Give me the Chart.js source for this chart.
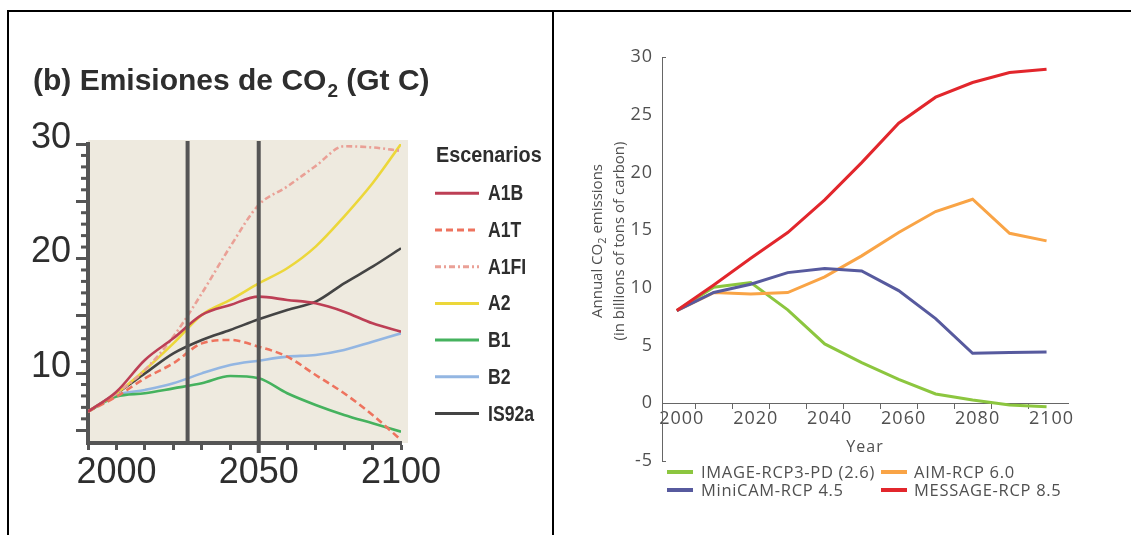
<!DOCTYPE html>
<html><head><meta charset="utf-8">
<script src="https://cdn.jsdelivr.net/npm/chart.js@4.4.1/dist/chart.umd.min.js"></script>
<style>
html,body{margin:0;padding:0;background:#fff;width:1131px;height:535px;overflow:hidden;position:relative;}
.ln{position:absolute;background:#000;}
#wl{position:absolute;left:10px;top:13px;width:542px;height:522px;}
#wr{position:absolute;left:555px;top:13px;width:576px;height:522px;}
</style></head><body>
<div class="ln" style="left:7px;top:10px;width:1124px;height:2px"></div>
<div class="ln" style="left:7px;top:10px;width:2px;height:525px"></div>
<div class="ln" style="left:552px;top:10px;width:2px;height:525px"></div>
<div id="wl"><canvas id="cl"></canvas></div>
<div id="wr"><canvas id="cr"></canvas></div>
<script>
// ---------- Left panel data (SRES scenarios, Gt C) ----------
const sresYears = [1990, 2000, 2010, 2020, 2030, 2040, 2050, 2060, 2070, 2080, 2090, 2100];
const sresA1B   = [6.63, 8.37, 11.14, 13.03, 15.07, 15.94, 16.67, 16.38, 16.09, 15.36, 14.34, 13.61];
const sresA1T   = [6.63, 7.94, 9.54, 10.85, 12.59, 12.89, 12.30, 11.43, 9.83, 8.23, 6.34, 4.15];
const sresA1FI  = [6.63, 8.23, 10.27, 13.18, 16.96, 21.04, 24.68, 26.28, 28.08, 29.8, 29.7, 29.4];
const sresA2    = [6.63, 8.23, 10.27, 12.59, 15.07, 16.38, 17.83, 19.15, 21.04, 23.66, 26.57, 30.0];
const sresB1    = [6.63, 7.94, 8.23, 8.66, 9.10, 9.74, 9.54, 8.23, 7.21, 6.34, 5.61, 4.88];
const sresB2    = [6.63, 8.08, 8.52, 9.10, 9.97, 10.70, 11.08, 11.43, 11.58, 12.01, 12.74, 13.47];
const sresIS92a = [6.63, 8.23, 9.97, 11.72, 12.89, 13.76, 14.69, 15.51, 16.23, 17.83, 19.29, 20.89];
const sresNames = ['A1B', 'A1T', 'A1FI', 'A2', 'B1', 'B2', 'IS92a'];
const sresValues = [sresA1B, sresA1T, sresA1FI, sresA2, sresB1, sresB2, sresIS92a];
const sresXTicks = [1990, 2000, 2010, 2020, 2030, 2040, 2050, 2060, 2070, 2080, 2090, 2100];
const sresXLabels = [2000, 2050, 2100];
const sresYTicks = [5, 10, 15, 20, 25, 30];
const sresYLabels = [10, 20, 30];
const sresMarkerYears = [2025, 2050];
const leftTitle = ['(b) Emisiones de CO', '2', ' (Gt C)'];
const leftLegendTitle = 'Escenarios';

// ---------- Right panel data (RCP scenarios, billions of tons of carbon) ----------
const rcpYears = [2000, 2010, 2020, 2030, 2040, 2050, 2060, 2070, 2080, 2090, 2100];
const rcpImage26   = [8.03, 10.05, 10.46, 8.09, 5.14, 3.52, 2.08, 0.81, 0.29, -0.14, -0.29];
const rcpAim60     = [8.03, 9.59, 9.47, 9.59, 10.95, 12.77, 14.79, 16.61, 17.68, 14.73, 14.07];
const rcpMiniCam45 = [8.03, 9.6, 10.31, 11.32, 11.67, 11.47, 9.76, 7.34, 4.33, 4.39, 4.45];
const rcpMessage85 = [8.03, 10.25, 12.56, 14.79, 17.62, 20.85, 24.26, 26.52, 27.79, 28.65, 28.94];
const rcpNames = ['IMAGE-RCP3-PD (2.6)', 'AIM-RCP 6.0', 'MiniCAM-RCP 4.5', 'MESSAGE-RCP 8.5'];
const rcpValues = [rcpImage26, rcpAim60, rcpMiniCam45, rcpMessage85];
const rcpXLabels = [2000, 2020, 2040, 2060, 2080, 2100];
const rcpXMarks = [2005, 2015, 2025, 2035, 2045, 2055, 2065, 2075, 2085, 2095];
const rcpYTitle = [['Annual CO', '2', ' emissions'], ['(in billions of tons of carbon)']];
const rcpXTitle = 'Year';

// ---------- styles ----------
const sresStyle = {
  'A1B':   {color: '#bd3f55', dash: []},
  'A1T':   {color: '#ee735e', dash: [7, 4]},
  'A1FI':  {color: '#eaa096', dash: [6, 3, 2, 3]},
  'A2':    {color: '#ecd73a', dash: []},
  'B1':    {color: '#45b25e', dash: []},
  'B2':    {color: '#93b6e2', dash: []},
  'IS92a': {color: '#444444', dash: []}
};
const rcpStyle = ['#8cc63f', '#f9a446', '#575a9e', '#e2262c'];

const SANS = '"Liberation Sans", Arial, Helvetica, sans-serif';
const OPEN = '"Open Sans", "Liberation Sans", sans-serif';

// ---------- Left chart ----------
const leftDecor = {
  id: 'leftDecor',
  beforeDraw(chart) {
    const {ctx, chartArea: a} = chart;
    ctx.save();
    ctx.fillStyle = '#eeeadf';
    ctx.fillRect(a.left, a.top - 4, a.right - a.left + 7, a.bottom - a.top + 4);
    ctx.restore();
  },
  afterDatasetsDraw(chart) {
    const {ctx, chartArea: a, scales: {x, y}} = chart;
    ctx.save();
    ctx.strokeStyle = '#555';
    ctx.lineWidth = 4;
    sresMarkerYears.forEach(yr => {
      const px = x.getPixelForValue(yr);
      ctx.beginPath();
      ctx.moveTo(px, a.top - 3);
      ctx.lineTo(px, a.bottom + (yr === 2050 ? 10 : 0));
      ctx.stroke();
    });
    ctx.lineWidth = 3;
    for (let v = 6; v < 30; v++) {
      if (v % 5 === 0) continue;
      const py = y.getPixelForValue(v);
      ctx.beginPath();
      ctx.moveTo(a.left - 7, py);
      ctx.lineTo(a.left, py);
      ctx.stroke();
    }
    ctx.restore();
  },
  afterDraw(chart) {
    const {ctx} = chart;
    ctx.save();
    // title
    ctx.fillStyle = '#2e2e2e';
    ctx.textBaseline = 'alphabetic';
    ctx.font = 'bold 30px ' + SANS;
    let tx = 23;
    const ty = 77;
    ctx.fillText(leftTitle[0], tx, ty);
    tx += ctx.measureText(leftTitle[0]).width + 1;
    ctx.font = 'bold 19px ' + SANS;
    ctx.fillText(leftTitle[1], tx, ty + 7);
    tx += ctx.measureText(leftTitle[1]).width;
    ctx.font = 'bold 30px ' + SANS;
    ctx.fillText(leftTitle[2], tx, ty);
    // legend
    ctx.font = 'bold 22px ' + SANS;
    ctx.save();
    ctx.translate(426, 148.5);
    ctx.scale(0.9, 1);
    ctx.fillText(leftLegendTitle, 0, 0);
    ctx.restore();
    chart.data.datasets.forEach((d, i) => {
      const cy = 180.3 + i * 36.7;
      ctx.save();
      ctx.strokeStyle = d.borderColor;
      ctx.lineWidth = 3;
      ctx.setLineDash(d.borderDash || []);
      ctx.beginPath();
      ctx.moveTo(425, cy);
      ctx.lineTo(469, cy);
      ctx.stroke();
      ctx.restore();
      ctx.save();
      ctx.translate(478, cy);
      ctx.scale(0.8, 1);
      ctx.textBaseline = 'middle';
      ctx.fillStyle = '#2e2e2e';
      ctx.fillText(d.label, 0, 1);
      ctx.restore();
    });
    ctx.restore();
  }
};

new Chart(document.getElementById('cl'), {
  type: 'line',
  data: {
    datasets: sresNames.map((n, i) => ({
      label: n,
      data: sresYears.map((yr, j) => ({x: yr, y: sresValues[i][j]})),
      borderColor: sresStyle[n].color,
      borderDash: sresStyle[n].dash,
      borderWidth: 2.6,
      pointRadius: 0,
      cubicInterpolationMode: 'monotone',
      fill: false
    }))
  },
  options: {
    responsive: true, maintainAspectRatio: false, animation: false,
    layout: {padding: {left: 0, top: 131, right: 151, bottom: 0}},
    plugins: {legend: {display: false}, tooltip: {enabled: false}, title: {display: false}},
    scales: {
      x: {
        type: 'linear', min: 1990, max: 2100,
        afterBuildTicks: s => { s.ticks = sresXTicks.map(v => ({value: v})); },
        afterFit: s => { s.height = 92; },
        grid: {drawOnChartArea: false, drawTicks: true, tickLength: 7, tickWidth: 3, tickColor: '#555'},
        border: {display: true, color: '#555', width: 4},
        ticks: {
          callback: v => sresXLabels.includes(v) ? String(v) : '',
          font: {family: SANS, size: 36}, color: '#2e2e2e',
          padding: 1, maxRotation: 0, autoSkip: false
        }
      },
      y: {
        type: 'linear', min: 3.89, max: 30,
        afterBuildTicks: s => { s.ticks = sresYTicks.map(v => ({value: v})); },
        afterFit: s => { s.width = 78; },
        grid: {drawOnChartArea: false, drawTicks: true, tickLength: 12, tickWidth: 3, tickColor: '#555'},
        border: {display: true, color: '#555', width: 4},
        ticks: {
          callback: v => sresYLabels.includes(v) ? String(v) : '',
          font: {family: SANS, size: 36}, color: '#2e2e2e',
          padding: 5, autoSkip: false, labelOffset: -6
        }
      }
    }
  },
  plugins: [leftDecor]
});

// ---------- Right chart ----------
const rightDecor = {
  id: 'rightDecor',
  beforeDraw(chart) {
    chart.ctx.letterSpacing = '1px';
  },
  afterDraw(chart) {
    const {ctx, chartArea: a} = chart;
    ctx.save();
    ctx.letterSpacing = '0px';
    ctx.fillStyle = '#505050';
    // y-axis title (two rotated lines)
    const centers = [43, 65];
    rcpYTitle.forEach((parts, li) => {
      ctx.save();
      const widths = parts.map((p, k) => {
        ctx.font = (k === 1 && parts.length > 1 ? '11px ' : '15px ') + OPEN;
        return ctx.measureText(p).width;
      });
      const total = widths.reduce((s, w) => s + w, 0);
      ctx.translate(centers[li], 228);
      ctx.rotate(-Math.PI / 2);
      ctx.textBaseline = 'middle';
      let px = -total / 2;
      parts.forEach((p, k) => {
        const sub = (k === 1 && parts.length > 1);
        ctx.font = (sub ? '11px ' : '15px ') + OPEN;
        ctx.fillText(p, px, sub ? 5 : 0);
        px += widths[k];
      });
      ctx.restore();
    });
    // small end caps on y axis
    ctx.strokeStyle = '#666';
    ctx.lineWidth = 1;
    [a.top, a.bottom].forEach(py => {
      ctx.beginPath();
      ctx.moveTo(a.left, Math.round(py) + 0.5);
      ctx.lineTo(a.left + 4, Math.round(py) + 0.5);
      ctx.stroke();
    });
    // legend
    const colSample = [112, 326];
    const colText = [146, 359];
    const rowY = [459, 477];
    ctx.font = '16.5px ' + OPEN;
    ctx.letterSpacing = '0.7px';
    ctx.textBaseline = 'middle';
    chart.data.datasets.forEach((d, i) => {
      const c = i % 2, r = Math.floor(i / 2);
      ctx.strokeStyle = d.borderColor;
      ctx.lineWidth = 4;
      ctx.beginPath();
      ctx.moveTo(colSample[c], rowY[r]);
      ctx.lineTo(colSample[c] + 26, rowY[r]);
      ctx.stroke();
      ctx.fillStyle = '#505050';
      ctx.fillText(d.label, colText[c], rowY[r] + 1);
    });
    ctx.restore();
    ctx.letterSpacing = '0px';
  }
};

new Chart(document.getElementById('cr'), {
  type: 'line',
  data: {
    datasets: rcpNames.map((n, i) => ({
      label: n,
      data: rcpYears.map((yr, j) => ({x: yr, y: rcpValues[i][j]})),
      borderColor: rcpStyle[i],
      borderWidth: 3,
      pointRadius: 0,
      tension: 0,
      fill: false,
      order: 3 - i
    }))
  },
  options: {
    responsive: true, maintainAspectRatio: false, animation: false,
    layout: {padding: {left: 0, top: 44, right: 63, bottom: 74}},
    plugins: {legend: {display: false}, tooltip: {enabled: false}},
    scales: {
      x: {
        type: 'linear', min: 1996, max: 2105.8, position: {y: 0},
        afterBuildTicks: s => {
          s.ticks = rcpXLabels.concat(rcpXMarks).sort((p, q) => p - q).map(v => ({value: v}));
        },
        grid: {
          drawOnChartArea: false, drawTicks: true, tickLength: 5, tickWidth: 1,
          tickColor: c => (c.tick && rcpXMarks.includes(c.tick.value)) ? '#666' : 'rgba(0,0,0,0)'
        },
        border: {display: true, color: '#666', width: 1},
        ticks: {
          callback: v => rcpXLabels.includes(v) ? String(v) : '',
          font: {family: OPEN, size: 18}, color: '#505050',
          padding: 0, labelOffset: 5, maxRotation: 0, autoSkip: false
        },
        title: {display: true, text: rcpXTitle, font: {family: OPEN, size: 16}, color: '#505050', padding: {top: 8, bottom: 0}}
      },
      y: {
        type: 'linear', min: -5, max: 30, position: 'left',
        afterFit: s => { s.width = 107; },
        grid: {drawOnChartArea: false, drawTicks: false},
        border: {display: true, color: '#666', width: 1},
        ticks: {stepSize: 5, font: {family: OPEN, size: 18}, color: '#505050', padding: 9}
      }
    }
  },
  plugins: [rightDecor]
});
</script>
</body></html>
